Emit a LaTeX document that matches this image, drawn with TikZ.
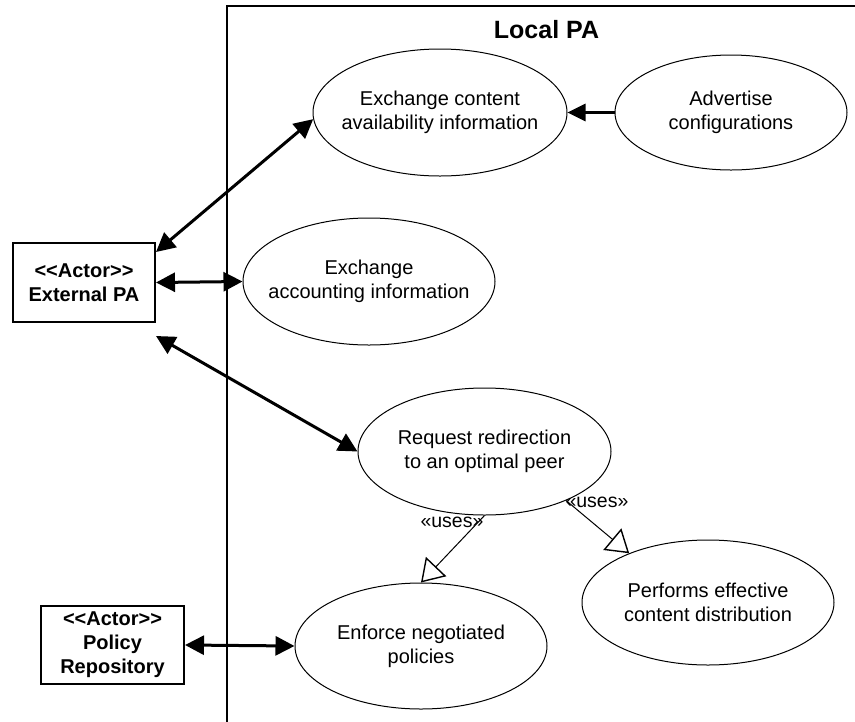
\documentclass[tikz,border=0pt]{standalone}
\usepackage{fontspec}
\setmainfont{Liberation Sans}
\usetikzlibrary{arrows.meta,shapes.geometric}
% stereotype brackets, kept from merging into guillemets
\newcommand\stereo[1]{<\kern0pt<#1>\kern0pt>}
\begin{document}
\begin{tikzpicture}[x=1pt,y=-1pt,
  usecase/.style={ellipse, draw, line width=1pt, inner xsep=-30pt, inner ysep=0pt,
    align=center, font=\fontsize{20}{24}\selectfont},
  actor/.style={rectangle, draw, line width=2pt, inner sep=0pt, align=center,
    font=\bfseries\fontsize{20}{24}\selectfont},
  assoc/.style={line width=3pt,
    {Triangle[length=19pt,width=19pt]}-{Triangle[length=19pt,width=19pt]}},
  flow/.style={line width=3pt, -{Triangle[length=18pt,width=17pt]}},
  uses/.style={line width=1pt, -{Triangle[open,length=22pt,width=28pt,line width=1.4pt]}},
  useslabel/.style={font=\fontsize{19.5}{22}\selectfont, inner sep=0pt}
]
\useasboundingbox (0,0) rectangle (855,721);

% system boundary (open to the right and bottom)
\begin{scope}
  \clip (0,0) rectangle (855,721);
  \draw[line width=1.8pt] (227,740) -- (227,6) -- (870,6);
\end{scope}

\node[font=\bfseries\fontsize{25}{30}\selectfont] (title) at (546.5,30) {Local PA};

% use cases
\node[usecase, minimum width=254pt, minimum height=127pt] (e1) at (440,112.5)
  {Exchange content\\availability information};
\node[usecase, minimum width=232pt, minimum height=115pt] (adv) at (731,112.5)
  {Advertise\\configurations};
\node[usecase, minimum width=252pt, minimum height=127pt] (e2) at (369,281.5)
  {Exchange\\accounting information};
\node[usecase, minimum width=253pt, minimum height=127pt] (rr) at (484.5,451.5)
  {Request redirection\\to an optimal peer};
\node[usecase, minimum width=252pt, minimum height=125pt] (perf) at (708,602.5)
  {Performs effective\\content distribution};
\node[usecase, minimum width=252pt, minimum height=126pt] (enf) at (421,646)
  {Enforce negotiated\\policies};

% actors
\node[actor, minimum width=142pt, minimum height=79pt] (ext) at (84,282.5)
  {\stereo{Actor}\\External PA};
\node[actor, minimum width=143pt, minimum height=78pt] (pol) at (112.5,645)
  {\stereo{Actor}\\Policy\\Repository};

% associations
\draw[assoc] ([yshift=-10pt]ext.north east) -- (e1.183);
\draw[assoc] (ext.east) -- (e2.west);
\draw[assoc] ([yshift=-13pt]ext.south east) -- (rr.west);
\draw[assoc] (pol.east) -- (enf.west);
\draw[flow] (adv.west) -- (e1.east);

% uses relations
\draw[uses] (rr.south) -- (enf.north);
\draw[uses] (rr.329.5) -- (perf.148.8);
\node[useslabel] (u1) at (452,522) {«uses»};
\node[useslabel] (u2) at (597,502) {«uses»};
\end{tikzpicture}
\end{document}
